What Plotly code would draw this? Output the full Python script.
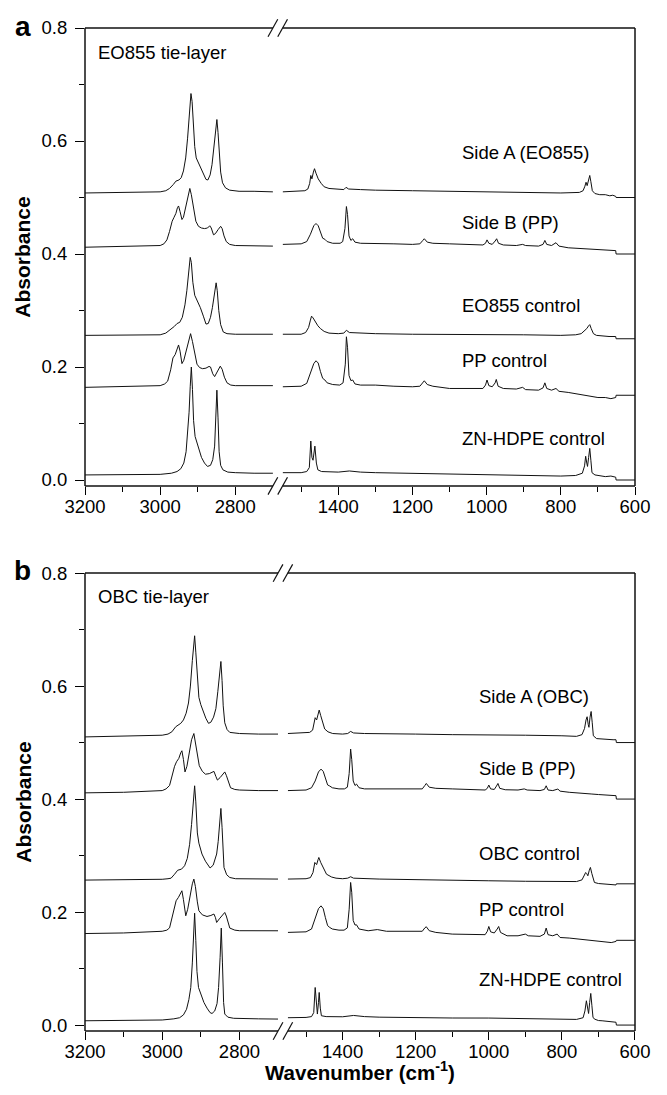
import plotly.graph_objects as go

# ---------------- DATA (wavenumber cm-1, absorbance incl. vertical offset) ----------------
A_SIDE_A_HI = [(3200, 0.508), (3100, 0.509), (3000, 0.510), (2985, 0.512), (2975, 0.516), (2965, 0.523),
               (2958, 0.529), (2950, 0.531), (2944, 0.535), (2938, 0.547), (2932, 0.570), (2927, 0.605),
               (2922, 0.650), (2918, 0.684), (2915, 0.670), (2912, 0.630), (2908, 0.590), (2904, 0.570),
               (2898, 0.561), (2892, 0.554), (2885, 0.543), (2878, 0.532), (2873, 0.531), (2867, 0.540),
               (2862, 0.558), (2857, 0.590), (2852, 0.625), (2849, 0.638), (2846, 0.615), (2843, 0.575),
               (2839, 0.545), (2834, 0.526), (2826, 0.517), (2815, 0.513), (2790, 0.511), (2750, 0.511),
               (2700, 0.510)]
A_SIDE_A_LO = [(1550, 0.510), (1510, 0.511), (1490, 0.512), (1482, 0.515), (1477, 0.525), (1474, 0.539),
               (1471, 0.533), (1467, 0.545), (1464, 0.551), (1460, 0.543), (1454, 0.533), (1446, 0.525),
               (1438, 0.519), (1425, 0.516), (1400, 0.514), (1385, 0.514), (1379, 0.518), (1372, 0.515),
               (1340, 0.514), (1300, 0.513), (1200, 0.512), (1100, 0.511), (1000, 0.510), (900, 0.509),
               (800, 0.508), (750, 0.509), (740, 0.512), (735, 0.520), (732, 0.527), (729, 0.521),
               (725, 0.530), (722, 0.539), (719, 0.528), (715, 0.512), (708, 0.507), (695, 0.505),
               (680, 0.505), (668, 0.503), (660, 0.504), (652, 0.502), (651, 0.500), (600, 0.500)]
A_SIDE_B_HI = [(3200, 0.412), (3100, 0.413), (3000, 0.415), (2990, 0.418), (2982, 0.425), (2975, 0.440),
               (2968, 0.458), (2963, 0.465), (2958, 0.472), (2954, 0.482), (2951, 0.485), (2947, 0.475),
               (2942, 0.461), (2938, 0.465), (2932, 0.482), (2926, 0.502), (2921, 0.516), (2917, 0.505),
               (2911, 0.478), (2905, 0.458), (2898, 0.449), (2890, 0.446), (2882, 0.445), (2874, 0.446),
               (2868, 0.450), (2864, 0.446), (2858, 0.434), (2853, 0.436), (2846, 0.443), (2839, 0.449),
               (2835, 0.445), (2830, 0.432), (2824, 0.422), (2815, 0.417), (2800, 0.415), (2750, 0.414),
               (2700, 0.414)]
A_SIDE_B_LO = [(1550, 0.417), (1500, 0.418), (1485, 0.422), (1475, 0.435), (1466, 0.450), (1460, 0.454),
               (1454, 0.450), (1448, 0.437), (1442, 0.428), (1436, 0.426), (1430, 0.422), (1415, 0.419),
               (1395, 0.419), (1388, 0.422), (1382, 0.445), (1378, 0.484), (1375, 0.470), (1371, 0.432),
               (1366, 0.424), (1361, 0.427), (1355, 0.421), (1340, 0.419), (1300, 0.418), (1250, 0.418),
               (1200, 0.417), (1180, 0.418), (1172, 0.424), (1168, 0.427), (1160, 0.421), (1145, 0.419),
               (1100, 0.418), (1050, 0.417), (1010, 0.416), (1003, 0.419), (999, 0.425), (994, 0.419),
               (985, 0.417), (977, 0.423), (973, 0.427), (968, 0.419), (955, 0.416), (920, 0.415),
               (903, 0.417), (895, 0.415), (860, 0.414), (848, 0.417), (843, 0.424), (838, 0.417),
               (825, 0.415), (813, 0.420), (805, 0.414), (780, 0.411), (750, 0.410), (720, 0.409),
               (700, 0.408), (680, 0.407), (660, 0.407), (652, 0.406), (651, 0.400), (600, 0.400)]
A_EO855_CTRL_HI = [(3200, 0.256), (3100, 0.256), (3000, 0.257), (2985, 0.260), (2972, 0.266), (2962, 0.272),
                   (2955, 0.277), (2948, 0.279), (2941, 0.288), (2934, 0.310), (2929, 0.335), (2924, 0.370),
                   (2920, 0.394), (2917, 0.385), (2913, 0.350), (2908, 0.327), (2901, 0.318), (2893, 0.305),
                   (2885, 0.290), (2878, 0.276), (2872, 0.277), (2866, 0.288), (2861, 0.305), (2856, 0.330),
                   (2851, 0.349), (2848, 0.335), (2844, 0.300), (2839, 0.275), (2832, 0.262), (2822, 0.259),
                   (2800, 0.258), (2700, 0.258)]
A_EO855_CTRL_LO = [(1550, 0.258), (1500, 0.258), (1488, 0.261), (1480, 0.270), (1475, 0.283), (1472, 0.290),
                   (1468, 0.287), (1462, 0.280), (1455, 0.273), (1448, 0.268), (1438, 0.263), (1425, 0.260),
                   (1400, 0.259), (1385, 0.260), (1378, 0.265), (1370, 0.261), (1300, 0.259), (1200, 0.258),
                   (1100, 0.258), (1000, 0.258), (900, 0.257), (800, 0.256), (760, 0.257), (745, 0.259),
                   (737, 0.264), (730, 0.268), (725, 0.273), (722, 0.275), (718, 0.268), (712, 0.259),
                   (704, 0.256), (690, 0.255), (670, 0.254), (652, 0.254), (651, 0.250), (600, 0.250)]
A_PP_CTRL_HI = [(3200, 0.164), (3100, 0.165), (3000, 0.167), (2988, 0.170), (2980, 0.175), (2972, 0.195),
                (2966, 0.216), (2960, 0.222), (2955, 0.232), (2951, 0.239), (2947, 0.228), (2942, 0.206),
                (2937, 0.212), (2930, 0.232), (2924, 0.250), (2919, 0.259), (2914, 0.245), (2908, 0.222),
                (2902, 0.205), (2895, 0.199), (2887, 0.197), (2878, 0.198), (2870, 0.201), (2866, 0.200),
                (2860, 0.188), (2855, 0.183), (2848, 0.192), (2840, 0.2015), (2835, 0.196), (2829, 0.182),
                (2822, 0.172), (2812, 0.168), (2800, 0.167), (2700, 0.167)]
A_PP_CTRL_LO = [(1550, 0.165), (1500, 0.166), (1485, 0.171), (1475, 0.188), (1466, 0.206), (1460, 0.211),
                (1454, 0.207), (1448, 0.192), (1442, 0.180), (1436, 0.177), (1430, 0.172), (1415, 0.169),
                (1396, 0.168), (1387, 0.172), (1381, 0.205), (1378, 0.2535), (1375, 0.235), (1371, 0.185),
                (1366, 0.176), (1361, 0.177), (1355, 0.170), (1340, 0.168), (1300, 0.168), (1250, 0.166),
                (1200, 0.165), (1180, 0.166), (1172, 0.173), (1168, 0.1756), (1160, 0.169), (1145, 0.166),
                (1100, 0.162), (1050, 0.162), (1010, 0.162), (1003, 0.168), (999, 0.177), (994, 0.167),
                (985, 0.165), (977, 0.172), (974, 0.178), (969, 0.166), (955, 0.162), (920, 0.161),
                (903, 0.164), (895, 0.160), (860, 0.159), (848, 0.163), (843, 0.172), (838, 0.162),
                (825, 0.159), (813, 0.162), (805, 0.157), (780, 0.155), (750, 0.152), (720, 0.148),
                (700, 0.146), (680, 0.146), (665, 0.144), (652, 0.146), (651, 0.150), (600, 0.150)]
A_HDPE_HI = [(3200, 0.009), (3100, 0.009), (3000, 0.010), (2970, 0.012), (2955, 0.015), (2945, 0.020),
             (2937, 0.030), (2931, 0.050), (2927, 0.080), (2923, 0.120), (2920, 0.165), (2917, 0.200),
             (2914, 0.160), (2911, 0.105), (2907, 0.077), (2902, 0.066), (2896, 0.053), (2890, 0.040),
             (2882, 0.030), (2874, 0.024), (2866, 0.026), (2860, 0.036), (2855, 0.060), (2852, 0.100),
             (2849, 0.159), (2846, 0.110), (2843, 0.050), (2839, 0.026), (2833, 0.018), (2820, 0.014),
             (2800, 0.013), (2750, 0.012), (2700, 0.012)]
A_HDPE_LO = [(1550, 0.013), (1500, 0.013), (1485, 0.015), (1478, 0.022), (1474, 0.069), (1471, 0.040),
             (1468, 0.035), (1463, 0.060), (1459, 0.030), (1455, 0.018), (1445, 0.015), (1420, 0.014),
             (1400, 0.014), (1370, 0.016), (1340, 0.014), (1300, 0.013), (1200, 0.012), (1100, 0.010),
             (1000, 0.009), (900, 0.008), (800, 0.007), (760, 0.008), (742, 0.012), (736, 0.025),
             (733, 0.042), (730, 0.030), (728, 0.024), (725, 0.040), (722, 0.056), (719, 0.035),
             (716, 0.013), (708, 0.009), (695, 0.007), (680, 0.006), (665, 0.007), (652, 0.005),
             (651, 0.000), (600, 0.000)]

B_SIDE_A_HI = [(3200, 0.510), (3100, 0.511), (3000, 0.513), (2985, 0.515), (2975, 0.519), (2965, 0.528),
               (2958, 0.532), (2952, 0.534), (2945, 0.540), (2938, 0.552), (2932, 0.570), (2927, 0.600),
               (2922, 0.645), (2918, 0.680), (2916, 0.689), (2913, 0.660), (2909, 0.610), (2905, 0.580),
               (2900, 0.567), (2894, 0.555), (2887, 0.543), (2880, 0.534), (2874, 0.536), (2867, 0.545),
               (2861, 0.560), (2856, 0.590), (2852, 0.620), (2848, 0.6435), (2845, 0.610), (2842, 0.565),
               (2838, 0.535), (2832, 0.523), (2825, 0.518), (2810, 0.516), (2800, 0.516), (2750, 0.515),
               (2700, 0.515)]
B_SIDE_A_LO = [(1550, 0.516), (1510, 0.517), (1490, 0.518), (1482, 0.522), (1478, 0.535), (1475, 0.544),
               (1471, 0.540), (1467, 0.552), (1464, 0.5575), (1460, 0.548), (1455, 0.535), (1449, 0.524),
               (1440, 0.519), (1427, 0.516), (1400, 0.515), (1386, 0.516), (1378, 0.5197), (1370, 0.517),
               (1340, 0.516), (1300, 0.516), (1200, 0.515), (1100, 0.514), (1000, 0.514), (900, 0.513),
               (800, 0.512), (760, 0.511), (745, 0.514), (738, 0.525), (734, 0.540), (731, 0.5457),
               (728, 0.532), (726, 0.527), (723, 0.545), (720, 0.555), (717, 0.535), (714, 0.512),
               (705, 0.507), (690, 0.506), (675, 0.505), (660, 0.505), (652, 0.505), (651, 0.500),
               (600, 0.500)]
B_SIDE_B_HI = [(3200, 0.411), (3100, 0.412), (3000, 0.415), (2990, 0.418), (2981, 0.424), (2975, 0.440),
               (2968, 0.458), (2963, 0.466), (2957, 0.472), (2952, 0.482), (2949, 0.4855), (2945, 0.470),
               (2941, 0.448), (2936, 0.458), (2930, 0.482), (2924, 0.505), (2918, 0.516), (2914, 0.500),
               (2909, 0.475), (2904, 0.459), (2896, 0.449), (2888, 0.444), (2878, 0.445), (2870, 0.447),
               (2866, 0.449), (2861, 0.440), (2857, 0.4336), (2850, 0.438), (2843, 0.445), (2838, 0.448),
               (2834, 0.442), (2829, 0.430), (2823, 0.420), (2812, 0.417), (2800, 0.416), (2750, 0.415),
               (2700, 0.415)]
B_SIDE_B_LO = [(1550, 0.415), (1500, 0.416), (1485, 0.420), (1475, 0.432), (1466, 0.448), (1459, 0.453),
               (1453, 0.449), (1447, 0.436), (1441, 0.425), (1435, 0.423), (1428, 0.420), (1410, 0.418),
               (1395, 0.418), (1387, 0.421), (1382, 0.445), (1378, 0.4885), (1375, 0.470), (1371, 0.432),
               (1366, 0.424), (1362, 0.4265), (1355, 0.420), (1340, 0.418), (1300, 0.418), (1250, 0.418),
               (1200, 0.417), (1182, 0.418), (1175, 0.424), (1171, 0.4276), (1163, 0.421), (1145, 0.419),
               (1100, 0.418), (1050, 0.417), (1010, 0.416), (1004, 0.419), (1000, 0.4248), (995, 0.418),
               (985, 0.417), (979, 0.423), (975, 0.4276), (970, 0.419), (955, 0.4165), (920, 0.416),
               (903, 0.418), (895, 0.416), (860, 0.415), (848, 0.417), (843, 0.4235), (838, 0.416),
               (825, 0.415), (811, 0.4177), (805, 0.414), (780, 0.412), (750, 0.410), (720, 0.409),
               (700, 0.408), (680, 0.407), (660, 0.407), (652, 0.406), (651, 0.400), (600, 0.400)]
B_OBC_CTRL_HI = [(3200, 0.2566), (3100, 0.257), (3000, 0.258), (2985, 0.259), (2977, 0.260), (2968, 0.267),
                 (2960, 0.274), (2950, 0.276), (2942, 0.282), (2935, 0.295), (2929, 0.320), (2924, 0.355),
                 (2920, 0.395), (2916, 0.4235), (2913, 0.395), (2909, 0.340), (2905, 0.322), (2897, 0.3027),
                 (2888, 0.290), (2876, 0.278), (2868, 0.283), (2863, 0.292), (2859, 0.3027), (2855, 0.325),
                 (2851, 0.360), (2848, 0.3834), (2845, 0.350), (2842, 0.300), (2840, 0.279), (2833, 0.266),
                 (2825, 0.2612), (2810, 0.259), (2800, 0.259), (2700, 0.2584)]
B_OBC_CTRL_LO = [(1550, 0.2584), (1500, 0.259), (1488, 0.261), (1481, 0.270), (1476, 0.2878), (1471, 0.284),
                 (1467, 0.293), (1465, 0.2966), (1460, 0.288), (1452, 0.276), (1444, 0.267), (1430, 0.262),
                 (1418, 0.260), (1400, 0.259), (1386, 0.260), (1378, 0.2625), (1370, 0.260), (1300, 0.2584),
                 (1200, 0.257), (1100, 0.256), (1000, 0.2554), (900, 0.2545), (800, 0.2536), (760, 0.254),
                 (745, 0.257), (738, 0.265), (735, 0.270), (732, 0.268), (729, 0.2642), (725, 0.274),
                 (722, 0.279), (718, 0.268), (711, 0.2524), (700, 0.2505), (680, 0.249), (660, 0.248),
                 (652, 0.248), (651, 0.250), (600, 0.250)]
B_PP_CTRL_HI = [(3200, 0.162), (3100, 0.163), (3000, 0.166), (2988, 0.168), (2981, 0.172), (2975, 0.188),
                (2969, 0.208), (2964, 0.220), (2958, 0.226), (2953, 0.234), (2949, 0.2377), (2945, 0.222),
                (2939, 0.1934), (2934, 0.205), (2928, 0.228), (2922, 0.250), (2918, 0.2584), (2914, 0.245),
                (2909, 0.218), (2905, 0.2023), (2896, 0.195), (2884, 0.1922), (2874, 0.194), (2866, 0.1965),
                (2862, 0.190), (2859, 0.1816), (2852, 0.188), (2843, 0.196), (2838, 0.1993), (2834, 0.193),
                (2829, 0.182), (2825, 0.1717), (2812, 0.168), (2800, 0.167), (2700, 0.1669)]
B_PP_CTRL_LO = [(1550, 0.164), (1500, 0.165), (1485, 0.170), (1475, 0.188), (1466, 0.206), (1459, 0.211),
                (1453, 0.206), (1447, 0.190), (1441, 0.176), (1435, 0.1727), (1428, 0.170), (1410, 0.168),
                (1396, 0.168), (1387, 0.172), (1382, 0.205), (1378, 0.2524), (1375, 0.235), (1371, 0.185),
                (1366, 0.177), (1362, 0.1775), (1355, 0.170), (1330, 0.1669), (1305, 0.169), (1280, 0.166),
                (1250, 0.166), (1200, 0.165), (1182, 0.166), (1175, 0.172), (1171, 0.174), (1163, 0.167),
                (1145, 0.164), (1100, 0.161), (1050, 0.161), (1010, 0.160), (1004, 0.166), (1000, 0.1745),
                (995, 0.165), (985, 0.163), (977, 0.170), (973, 0.1745), (968, 0.164), (950, 0.158),
                (920, 0.158), (900, 0.161), (892, 0.158), (860, 0.157), (848, 0.161), (843, 0.1717),
                (838, 0.160), (825, 0.158), (813, 0.161), (805, 0.155), (780, 0.154), (750, 0.152),
                (720, 0.150), (700, 0.149), (680, 0.148), (665, 0.146), (652, 0.148), (651, 0.150),
                (600, 0.150)]
B_HDPE_HI = [(3200, 0.0076), (3100, 0.008), (3000, 0.009), (2970, 0.011), (2955, 0.013), (2945, 0.018),
             (2937, 0.028), (2931, 0.045), (2926, 0.0665), (2922, 0.110), (2919, 0.160), (2916, 0.198),
             (2913, 0.150), (2910, 0.095), (2906, 0.0665), (2900, 0.055), (2892, 0.040), (2884, 0.030),
             (2876, 0.022), (2871, 0.0205), (2864, 0.025), (2858, 0.038), (2854, 0.0665), (2850, 0.120),
             (2847, 0.1717), (2844, 0.110), (2841, 0.040), (2838, 0.0195), (2830, 0.014), (2815, 0.012),
             (2800, 0.0115), (2750, 0.011), (2700, 0.0106)]
B_HDPE_LO = [(1550, 0.013), (1500, 0.0135), (1485, 0.015), (1479, 0.022), (1475, 0.0665), (1472, 0.035),
             (1469, 0.0195), (1466, 0.040), (1464, 0.0577), (1461, 0.030), (1458, 0.0165), (1445, 0.015),
             (1400, 0.0147), (1370, 0.017), (1340, 0.015), (1300, 0.014), (1200, 0.013), (1100, 0.0125),
             (1000, 0.0124), (900, 0.011), (800, 0.0094), (760, 0.010), (742, 0.013), (737, 0.025),
             (733, 0.043), (730, 0.028), (727, 0.0205), (724, 0.040), (721, 0.056), (718, 0.035),
             (715, 0.014), (711, 0.0106), (700, 0.008), (690, 0.0076), (675, 0.007), (660, 0.006),
             (652, 0.005), (651, 0.000), (600, 0.000)]

PANEL_A_SPECTRA = [(A_SIDE_A_HI, A_SIDE_A_LO), (A_SIDE_B_HI, A_SIDE_B_LO), (A_EO855_CTRL_HI, A_EO855_CTRL_LO),
                   (A_PP_CTRL_HI, A_PP_CTRL_LO), (A_HDPE_HI, A_HDPE_LO)]
PANEL_B_SPECTRA = [(B_SIDE_A_HI, B_SIDE_A_LO), (B_SIDE_B_HI, B_SIDE_B_LO), (B_OBC_CTRL_HI, B_OBC_CTRL_LO),
                   (B_PP_CTRL_HI, B_PP_CTRL_LO), (B_HDPE_HI, B_HDPE_LO)]

PANEL_A_LABELS = ["Side A (EO855)", "Side B (PP)", "EO855 control", "PP control", "ZN-HDPE control"]
PANEL_B_LABELS = ["Side A (OBC)", "Side B (PP)", "OBC control", "PP control", "ZN-HDPE control"]
PANEL_TITLES = ["EO855 tie-layer", "OBC tie-layer"]
PANEL_LETTERS = ["a", "b"]

X_HI_RANGE = [3200, 2700]
X_LO_RANGE = [1550, 600]
X_HI_MAJOR = [3200, 3000, 2800]
X_HI_MINOR = [3100, 2900]
X_LO_MAJOR = [1400, 1200, 1000, 800, 600]
X_LO_MINOR = [1500, 1300, 1100, 900, 700]
Y_MAJOR = [0.0, 0.2, 0.4, 0.6, 0.8]
Y_MINOR = [0.1, 0.3, 0.5, 0.7]
Y_RANGE = [-0.0105, 0.8]

# ---------------- LAYOUT GEOMETRY ----------------
# the page body has an 8 px margin, so the figure is 16 px smaller than the window
W, H = 651, 1079
ML, MR, MT, MB = 77, 9, 19, 56
FONT = "Liberation Sans, Arial, Helvetica, sans-serif"
INK = "black"
FS = 18.5


def fx(px):  # reference-image x pixel -> paper fraction
    return (px - 85) / 565.0


def fy(py):  # reference-image y pixel -> paper fraction
    return (1031 - py) / 1004.0


GEOM = [dict(xl_end=278.0, xr_start=288.0, top=27.0, bot=485.4,
             label_x=470.0, label_y=[152, 222, 305, 360, 438], title_y=51.5, letter_y=25.0),
        dict(xl_end=283.3, xr_start=293.3, top=572.6, bot=1031.0,
             label_x=488.0, label_y=[696, 768, 853, 909, 979], title_y=596.0, letter_y=570.0)]

fig = go.Figure()
layout = dict(width=W, height=H, margin=dict(l=ML, r=MR, t=MT, b=MB),
              paper_bgcolor="white", plot_bgcolor="rgba(0,0,0,0)", showlegend=False,
              font=dict(family=FONT, size=FS, color="black"))
annotations = []
shapes = []
tickfont = dict(family=FONT, size=FS, color="black")


def axis(**kw):
    d = dict(showline=False, showgrid=False, zeroline=False, tickcolor=INK, tickwidth=1)
    d.update(kw)
    return d


def frame_line(x0, y0, x1, y1):
    return dict(type="line", xref="paper", yref="paper", x0=fx(x0), y0=fy(y0), x1=fx(x1), y1=fy(y1),
                line=dict(color="#111111", width=1.5))


for p, (spectra, labels, g) in enumerate(zip([PANEL_A_SPECTRA, PANEL_B_SPECTRA],
                                              [PANEL_A_LABELS, PANEL_B_LABELS], GEOM)):
    b = 4 * p

    def nx(i):
        i = b + i
        return "" if i == 1 else str(i)

    def ny(i):
        i = 2 * p + i
        return "" if i == 1 else str(i)

    ydom = [fy(g["bot"]), fy(g["top"])]
    xl_dom = [0.0, fx(g["xl_end"])]
    xr_dom = [fx(g["xr_start"]), 1.0]

    layout["xaxis" + nx(1)] = axis(domain=xl_dom, range=X_HI_RANGE, anchor="y" + ny(1), ticks="outside",
                                   ticklen=8, tickmode="array", tickvals=X_HI_MAJOR,
                                   ticktext=[str(v) for v in X_HI_MAJOR], tickfont=tickfont,
                                   ticklabelstandoff=-4, ticklabeloverflow="allow",
                                   minor=dict(ticks="outside", ticklen=5, tickvals=X_HI_MINOR, tickmode="array",
                                              tickcolor=INK, tickwidth=1))
    layout["xaxis" + nx(2)] = axis(domain=xr_dom, range=X_LO_RANGE, anchor="y" + ny(1), ticks="outside",
                                   ticklen=8, tickmode="array", tickvals=X_LO_MAJOR,
                                   ticktext=[str(v) for v in X_LO_MAJOR], tickfont=tickfont,
                                   ticklabelstandoff=-4, ticklabeloverflow="allow",
                                   minor=dict(ticks="outside", ticklen=5, tickvals=X_LO_MINOR, tickmode="array",
                                              tickcolor=INK, tickwidth=1))
    layout["xaxis" + nx(3)] = axis(domain=xl_dom, range=X_HI_RANGE, anchor="y" + ny(1), side="top",
                                   ticks="inside", ticklen=5, tickmode="array",
                                   tickvals=X_HI_MAJOR + X_HI_MINOR, showticklabels=False)
    layout["xaxis" + nx(4)] = axis(domain=xr_dom, range=X_LO_RANGE, anchor="y" + ny(1), side="top",
                                   ticks="inside", ticklen=5, tickmode="array",
                                   tickvals=X_LO_MAJOR + X_LO_MINOR, showticklabels=False)
    layout["yaxis" + ny(1)] = axis(domain=ydom, range=Y_RANGE, anchor="x" + nx(1), ticks="outside",
                                   ticklen=9, tickmode="array", tickvals=Y_MAJOR,
                                   ticktext=["%.1f" % v for v in Y_MAJOR], tickfont=tickfont,
                                   ticklabelstandoff=4,
                                   minor=dict(ticks="outside", ticklen=5, tickvals=Y_MINOR, tickmode="array",
                                              tickcolor=INK, tickwidth=1))
    layout["yaxis" + ny(2)] = axis(domain=ydom, range=Y_RANGE, anchor="x" + nx(2), side="right",
                                   ticks="inside", ticklen=5, tickmode="array",
                                   tickvals=Y_MAJOR + Y_MINOR, showticklabels=False)

    for hi, lo in spectra:
        fig.add_trace(go.Scatter(x=[v[0] for v in hi], y=[v[1] for v in hi], mode="lines",
                                 line=dict(color="#111111", width=1), hoverinfo="skip",
                                 xaxis="x" + nx(1), yaxis="y" + ny(1)))
        fig.add_trace(go.Scatter(x=[v[0] for v in lo], y=[v[1] for v in lo], mode="lines",
                                 line=dict(color="#111111", width=1), hoverinfo="skip",
                                 xaxis="x" + nx(2), yaxis="y" + ny(1)))

    for text, ly in zip(labels, g["label_y"]):
        annotations.append(dict(text=text, x=fx(g["label_x"]), y=fy(ly), xref="paper", yref="paper",
                                xanchor="left", yanchor="middle", showarrow=False,
                                font=dict(family=FONT, size=FS, color="black")))
    annotations.append(dict(text=PANEL_TITLES[p], x=fx(96), y=fy(g["title_y"]), xref="paper", yref="paper",
                            xanchor="left", yanchor="middle", showarrow=False,
                            font=dict(family=FONT, size=FS, color="black")))
    annotations.append(dict(text="<b>%s</b>" % PANEL_LETTERS[p], x=fx(21), y=fy(g["letter_y"]),
                            xref="paper", yref="paper", xanchor="center", yanchor="middle",
                            showarrow=False, font=dict(family=FONT, size=28, color="black")))
    annotations.append(dict(text="<b>Absorbance</b>", x=fx(21), y=fy((g["top"] + g["bot"]) / 2),
                            xref="paper", yref="paper", xanchor="center", yanchor="middle",
                            textangle=-90, showarrow=False, font=dict(family=FONT, size=21, color="black")))

    # plot frame (broken at the axis break)
    top, bot = g["top"], g["bot"]
    shapes.append(frame_line(85, top, 85, bot))
    shapes.append(frame_line(650, top, 650, bot))
    for yy in (top, bot):
        shapes.append(frame_line(85, yy, g["xl_end"], yy))
        shapes.append(frame_line(g["xr_start"], yy, 650, yy))
        for cx in (g["xl_end"], g["xr_start"]):
            shapes.append(dict(type="line", xref="paper", yref="paper",
                               x0=fx(cx - 5), y0=fy(yy + 8.7), x1=fx(cx + 5), y1=fy(yy - 8.7),
                               line=dict(color="#111111", width=1.2)))

annotations.append(dict(text="<b>Wavenumber (cm<sup>-1</sup>)</b>", x=fx(367.5), y=fy(1071),
                        xref="paper", yref="paper", xanchor="center", yanchor="middle",
                        showarrow=False, font=dict(family=FONT, size=20.5, color="black")))

layout["annotations"] = annotations
layout["shapes"] = shapes
fig.update_layout(**layout)
fig.write_html("out.html")
